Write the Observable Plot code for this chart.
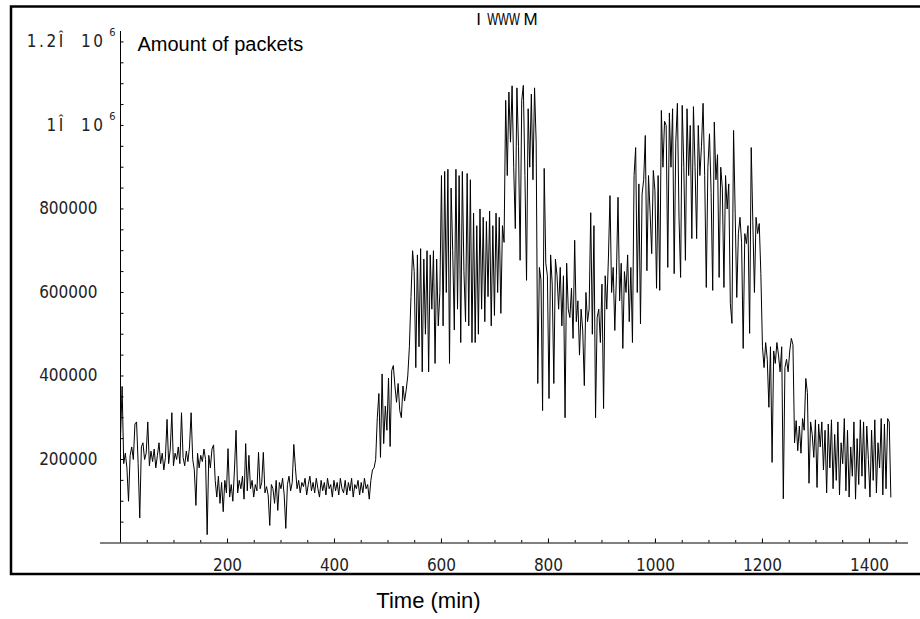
<!DOCTYPE html>
<html><head><meta charset="utf-8">
<script src="https://cdn.jsdelivr.net/npm/d3@7"></script>
<script src="https://cdn.jsdelivr.net/npm/@observablehq/plot@0.6"></script>
<style>html,body{margin:0;padding:0;background:#fff;overflow:hidden}#chart svg{display:block;overflow:visible}</style>
</head><body><div id="chart"></div>
<script>
// sampling interval of the series (minutes)
const stepMinutes = 3;
// amount of packets, in thousands, one value every 3 minutes from 0 to 1440
const packetsK = [
 250,375,190,215,180,100,210,230,200,285,290,190,60,230,240,200,215,290,185,220,
 195,225,180,210,240,190,215,175,205,296,190,225,312,185,215,200,230,190,312,205,
 185,220,195,230,312,200,175,90,215,180,210,195,225,200,20,210,180,225,235,150,
 110,160,95,145,75,150,120,226,110,140,100,175,270,120,150,130,160,105,238,125,
 210,130,150,110,140,125,217,130,145,217,120,135,115,42,140,130,95,150,78,145,
 130,155,115,35,140,160,125,145,236,180,130,150,120,145,135,155,115,140,160,125,
 145,120,155,130,110,150,125,145,115,155,130,140,110,150,125,145,115,155,130,120,
 150,115,145,125,155,110,140,130,150,115,145,120,155,130,140,105,150,175,180,200,
 300,358,205,405,238,328,270,395,231,413,425,376,337,382,317,300,376,340,366,400,
 470,590,700,650,420,690,470,705,410,680,500,700,410,690,560,700,430,680,520,600,
 880,520,890,600,895,430,850,700,510,895,560,880,480,890,650,530,885,520,870,480,
 790,480,760,500,800,560,780,530,770,590,795,520,760,545,790,600,780,550,760,720,
 1060,880,1080,960,1095,900,753,1090,950,677,1060,1096,880,629,1040,900,1075,870,1090,960,
 382,660,630,317,897,670,640,346,690,620,382,680,640,560,660,520,640,300,670,560,
 540,610,490,725,530,580,450,560,510,377,600,530,560,791,500,760,300,540,560,480,
 620,322,640,560,680,832,600,660,509,640,828,580,670,466,650,600,690,530,660,480,
 880,947,600,860,525,836,870,976,652,880,790,693,892,844,610,880,605,1036,900,1010,
 1000,660,1030,900,1040,645,960,1053,780,636,1048,900,677,1040,880,1000,729,1045,900,729,
 1000,880,950,1053,880,612,900,980,840,605,1008,870,930,636,900,850,612,880,800,860,
 573,526,988,790,588,741,780,720,466,741,717,760,502,947,770,600,780,741,765,645,
 470,420,480,440,325,470,193,460,430,480,450,410,470,106,420,440,410,460,490,475,
 240,293,221,280,215,298,270,394,360,143,290,260,205,295,133,285,230,290,175,270,
 120,285,180,295,130,260,150,290,115,240,190,298,125,270,110,230,160,290,105,250,
 140,295,160,290,130,280,200,110,270,150,295,120,240,180,298,115,285,130,298,290,
 110
];
const xMajorTicks = [200, 400, 600, 800, 1000, 1200, 1400];
const xMinorTicks = [50,100,150,200,250,300,350,400,450,500,550,600,650,700,750,800,850,900,950,1000,1050,1100,1150,1200,1250,1300,1350,1400,1450];
const yMajorTicks = [200000, 400000, 600000, 800000];
const yMajorLabels = ["200000", "400000", "600000", "800000"];
const yPowerTicks = [1000000, 1200000];
const yPowerLabels = ["1Î 10", "1.2Î 10"];
const yPowerExponents = ["6", "6"];
const yMinorTicks = [50000,100000,150000,200000,250000,300000,350000,400000,450000,500000,550000,600000,650000,700000,750000,800000,850000,900000,950000,1000000,1050000,1100000,1150000,1200000];
const titleParts = ["I", "WWW", "M"];
const yTitle = "Amount of packets";
const xTitle = "Time (min)";

const data = packetsK.map((v, i) => ({minute: i * stepMinutes, packets: v * 1000}));

const tickFont = "'DejaVu Sans Condensed', 'DejaVu Sans', sans-serif";
const textFont = "'Liberation Sans', Arial, sans-serif";

const chart = Plot.plot({
  width: 920,
  height: 619,
  marginLeft: 120,
  marginRight: 12,
  marginTop: 31,
  marginBottom: 76.5,
  x: {domain: [0, 1473]},
  y: {domain: [0, 1225000]},
  style: {fontFamily: tickFont, fontSize: "17px", color: "#000", background: "#fff"},
  marks: [
    Plot.frame({stroke: "#000", strokeWidth: 2.5, insetLeft: -109.5, insetTop: -25, insetBottom: -31, insetRight: -20}),
    Plot.ruleY([0], {x1: -37.4, x2: 1473, stroke: "#000", strokeWidth: 1}),
    Plot.ruleX([0], {y1: 0, y2: 1225000, stroke: "#000", strokeWidth: 1}),
    Plot.axisX({ticks: xMinorTicks, tickSize: -2.5, tickFormat: () => "", label: null, stroke: "#000"}),
    Plot.axisX({ticks: xMajorTicks, tickSize: -4, tickFormat: () => "", label: null, stroke: "#000"}),
    Plot.axisX({ticks: xMajorTicks, tickSize: 0, tickPadding: 16, tickFormat: d => String(d), label: null, fill: "#222", fontSize: 17}),
    Plot.axisY({ticks: yMinorTicks, tickSize: -3.5, tickFormat: () => "", label: null, stroke: "#000"}),
    Plot.axisY({ticks: yMajorTicks, tickSize: 0, tickPadding: 23, tickFormat: d => yMajorLabels[yMajorTicks.indexOf(d)], label: null, fill: "#222", fontSize: 17}),
    Plot.axisY({ticks: yPowerTicks, tickSize: 0, tickPadding: 15, tickFormat: d => yPowerLabels[yPowerTicks.indexOf(d)], label: null, fill: "#222", fontSize: 17}),
    Plot.text(yPowerTicks, {y: d => d, frameAnchor: "left", lineAnchor: "middle", text: (d) => yPowerExponents[yPowerTicks.indexOf(d)], dx: -5, dy: -9, textAnchor: "end", fontSize: 11, fill: "#222"}),
    Plot.line(data, {x: "minute", y: "packets", stroke: "#000", strokeWidth: 1}),
    Plot.text([yTitle], {frameAnchor: "top-left", lineAnchor: "middle", dx: 17, dy: 12.6, textAnchor: "start", fontFamily: textFont, fontSize: 20, fill: "#000"}),
    Plot.text([xTitle], {frameAnchor: "bottom", lineAnchor: "middle", dx: -86, dy: 57.5, fontFamily: textFont, fontSize: 22, fill: "#000"}),
    Plot.text([titleParts[0]], {frameAnchor: "top", lineAnchor: "middle", dx: -36, dy: -12, fontFamily: textFont, fontSize: 17, fill: "#000"}),
    Plot.text([titleParts[1]], {frameAnchor: "top", lineAnchor: "middle", dx: -11, dy: -12, fontFamily: textFont, fontSize: 17, fill: "#000"}),
    Plot.text([titleParts[2]], {frameAnchor: "top", lineAnchor: "middle", dx: 16, dy: -12, fontFamily: textFont, fontSize: 17, fill: "#000"})
  ]
});
d3.select(chart).selectAll("text").each(function () {
  const t = this.textContent;
  if (t === titleParts[1]) {
    const tr = this.getAttribute("transform") || "";
    const xAttr = this.getAttribute("x");
    if (xAttr !== null) {
      const cx = +xAttr;
      this.setAttribute("transform", `${tr} translate(${cx},0) scale(0.68,1) translate(${-cx},0)`);
    } else {
      this.setAttribute("transform", `${tr} scale(0.68,1)`);
    }
  }
  if (yPowerLabels.includes(t)) {
    d3.select(this).style("letter-spacing", "2.5px").style("word-spacing", "8px");
  }
});
document.getElementById("chart").appendChild(chart);
</script>
</body></html>
